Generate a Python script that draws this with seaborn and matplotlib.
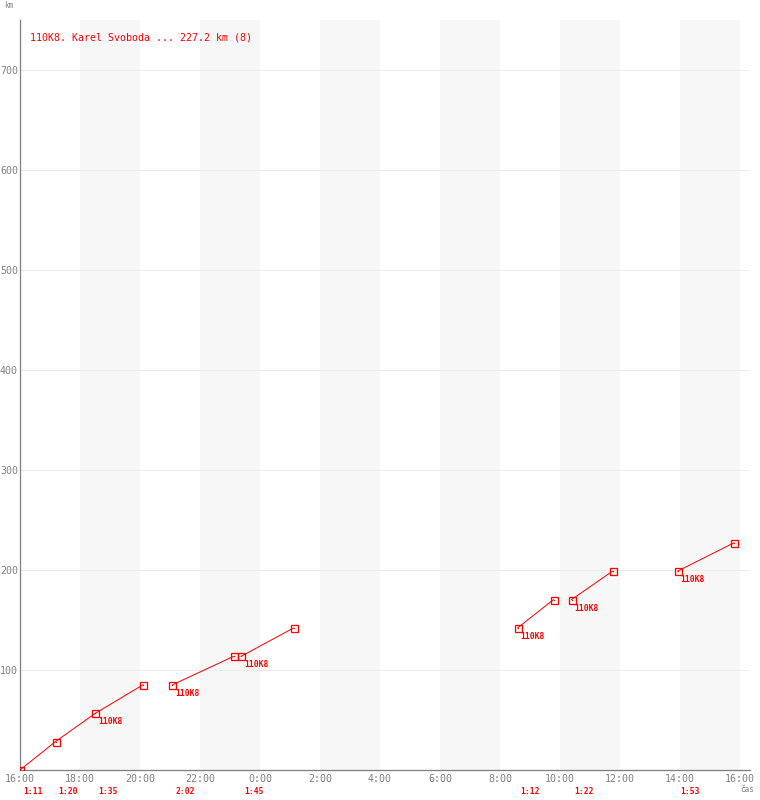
import matplotlib
matplotlib.use("Agg")
import matplotlib.pyplot as plt
import seaborn as sns
import pandas as pd
import numpy as np

# ---- data ----
times = ["16:00", "17:11", "18:31", "20:06",
         "21:05", "23:07",
         "23:22", "01:07",
         "08:35", "09:47",
         "10:23", "11:45",
         "13:55", "15:48"]
km = [0.0, 28.4, 56.8, 85.2,
      85.2, 113.6,
      113.6, 142.0,
      142.0, 170.4,
      170.4, 198.8,
      198.8, 227.2]
segment = [1, 1, 1, 1, 2, 2, 3, 3, 4, 4, 5, 5, 6, 6]
label_idx = [2, 4, 6, 8, 10, 12]
label_text = "110K8"
leg_start_idx = [0, 1, 2, 4, 6, 8, 10, 12]
leg_durations = ["1:11", "1:20", "1:35", "2:02", "1:45", "1:12", "1:22", "1:53"]
x_ticklabels = ["16:00", "18:00", "20:00", "22:00", "0:00", "2:00", "4:00",
                "6:00", "8:00", "10:00", "12:00", "14:00", "16:00"]
y_ticks = [100, 200, 300, 400, 500, 600, 700]
title = "110K8. Karel Svoboda ... 227.2 km (8)"


def to_hours(t):
    h, m = t.split(":")
    return (int(h) + int(m) / 60 - 16) % 24


df = pd.DataFrame({
    "t": [to_hours(t) for t in times],
    "km": km,
    "seg": segment,
})

RED = "#ff0000"
GRAY = "#808080"
PX = 72 / 100  # points per pixel

sns.set_style("white")
plt.rcParams["font.family"] = ["DejaVu Sans Mono", "DejaVu Sans"]

fig = plt.figure(figsize=(7.6, 8.0), dpi=100)
ax = fig.add_axes([20 / 760, 30 / 800, 730 / 760, 750 / 800])
ax.set_xlim(0, 24 + 1 / 3)
ax.set_ylim(0, 750)

# shaded bands
for s in range(2, 24, 4):
    ax.axvspan(s, s + 2, color="#f7f7f7", lw=0, zorder=0)
for y in y_ticks:
    ax.axhline(y, color="#ececec", lw=1 * PX, zorder=0.5)

sns.lineplot(data=df, x="t", y="km", units="seg", estimator=None, ax=ax,
             color=RED, lw=1.0 * PX, marker="s", markersize=7 * PX,
             markeredgecolor=RED, markerfacecolor="none", markeredgewidth=1.3 * PX,
             legend=False, zorder=3)
ax.plot(df["t"], df["km"], linestyle="none", marker="o", markersize=1.3 * PX,
        markeredgewidth=0, color=RED, zorder=4)

for i in label_idx:
    ax.annotate(label_text, xy=(df["t"][i], df["km"][i]), xytext=(3 * PX, -4 * PX),
                textcoords="offset points", ha="left", va="top", color=RED,
                fontsize=5.8, fontweight="bold", zorder=5)

for i, d in zip(leg_start_idx, leg_durations):
    ax.annotate(d, xy=(df["t"][i], 0), xycoords=("data", "axes fraction"),
                xytext=(3 * PX, -22 * PX), textcoords="offset points",
                ha="left", va="center", color=RED, fontsize=5.8, fontweight="bold")

ax.set_xticks(np.arange(0, 25, 2))
ax.set_xticklabels(x_ticklabels)
ax.set_yticks(y_ticks)
ax.set_yticklabels([str(v) for v in y_ticks])
ax.tick_params(axis="both", length=0, colors=GRAY, labelsize=7.2)
ax.tick_params(axis="x", pad=4 * PX)
ax.tick_params(axis="y", pad=2 * PX)
ax.set_xlabel("")
ax.set_ylabel("")
for side in ["top", "right"]:
    ax.spines[side].set_visible(False)
for side in ["left", "bottom"]:
    ax.spines[side].set_color(GRAY)
    ax.spines[side].set_linewidth(1.3 * PX)

fig.text(30 / 760, 1 - 38 / 800, title, color=RED, fontsize=7.2, ha="left", va="center")
fig.text(4 / 760, 1 - 6 / 800, "km", color=GRAY, fontsize=5.5, ha="left", va="center")
fig.text(740 / 760, 1 - 789 / 800, "čas", color=GRAY, fontsize=5.5, ha="left", va="center")

fig.savefig("out.png", dpi=100, facecolor="white")
